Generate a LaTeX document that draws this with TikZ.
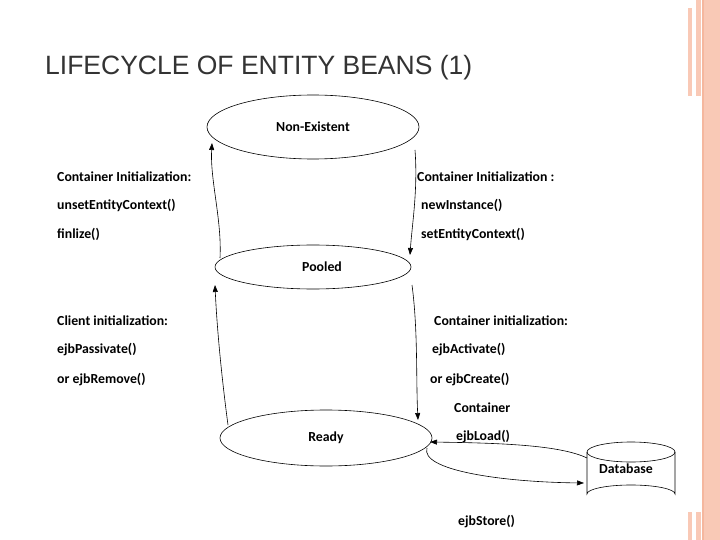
\documentclass[tikz,border=0pt]{standalone}
\usepackage{fontspec}
\setmainfont{Carlito}
\newfontfamily\titlefont{Liberation Sans}
\usetikzlibrary{arrows.meta}
\definecolor{bar}{HTML}{F9C9B6}
\definecolor{barD}{HTML}{F5B79E}
\begin{document}
\begin{tikzpicture}[x=1pt,y=-1pt,
  lab/.style={anchor=west,inner sep=0,font=\fontsize{13.8}{16}\selectfont\bfseries},
  arr/.style={-{Triangle[length=7pt,width=5pt]},semithick}]
\useasboundingbox (0,0) rectangle (720,540);
\fill[white] (0,0) rectangle (720,540);
% decoration
\fill[bar] (702,0) rectangle (720,540);
\fill[barD] (702,0) rectangle (704,540);
\fill[bar] (688,8) rectangle (692,96);
\fill[bar] (696,0) rectangle (701,96);
\fill[bar] (688,512) rectangle (692,540);
\fill[bar] (696,512) rectangle (701,540);
\node[anchor=west,inner sep=0,font=\titlefont\fontsize{26.5}{30}\selectfont,text=black!80] (title) at (45,68) {LIFECYCLE OF ENTITY BEANS (1)};
% states
\draw[semithick] (313,127) ellipse (106 and 32);
\node[font=\fontsize{13.8}{16}\selectfont\bfseries] (ne) at (313,127) {Non-Existent};
\draw[semithick] (313,267) ellipse (98 and 22);
\node[font=\fontsize{13.8}{16}\selectfont\bfseries] (po) at (322,267) {Pooled};
\draw[semithick] (326,438) ellipse (106 and 28);
\node[font=\fontsize{13.8}{16}\selectfont\bfseries] (re) at (326,438) {Ready};
% database
\draw[semithick] (587,452) -- (587,494) arc[start angle=180,end angle=360,x radius=44,y radius=9] -- (675,452);
\draw[semithick] (631,452) ellipse (44 and 10);
\node[font=\fontsize{13.8}{16}\selectfont\bfseries] (db) at (626,469) {Database};
% coordinates for arrows
\coordinate (a1) at (220,258); \coordinate (a2) at (212,143);
\coordinate (b1) at (415,150); \coordinate (b2) at (410,255);
\coordinate (c1) at (228,425); \coordinate (c2) at (215,285);
\coordinate (d1) at (412,285); \coordinate (d2) at (418,420);
\coordinate (e1) at (587,458); \coordinate (e2) at (430,442);
\coordinate (f1) at (427,448); \coordinate (f2) at (584,483);
\draw[arr] (a1) .. controls (222,220) and (210,180) .. (a2);
\draw[arr] (b1) .. controls (418,190) and (412,225) .. (b2);
\draw[arr] (c1) .. controls (222,380) and (217,330) .. (c2);
\draw[arr] (d1) .. controls (418,330) and (416,380) .. (d2);
\draw[arr] (e1) .. controls (560,445) and (500,443) .. (e2);
\draw[arr] (f1) .. controls (420,470) and (500,482) .. (f2);
% labels
\node[lab] (l1) at (57,177) {Container Initialization:};
\node[lab] (l2) at (57,205) {unsetEntityContext()};
\node[lab] (l3) at (57,234) {finlize()};
\node[lab] (r1) at (417,177) {Container Initialization :};
\node[lab] (r2) at (421,205) {newInstance()};
\node[lab] (r3) at (421,234) {setEntityContext()};
\node[lab] (l4) at (57,321) {Client initialization:};
\node[lab] (l5) at (57,350) {ejbPassivate()};
\node[lab] (l6) at (57,380) {or ejbRemove()};
\node[lab] (r4) at (434,321) {Container initialization:};
\node[lab] (r5) at (432,350) {ejbActivate()};
\node[lab] (r6) at (430,380) {or ejbCreate()};
\node[lab] (r7) at (454,408) {Container};
\node[lab] (r8) at (456,437) {ejbLoad()};
\node[lab] (r9) at (458,522) {ejbStore()};
\end{tikzpicture}
\end{document}
